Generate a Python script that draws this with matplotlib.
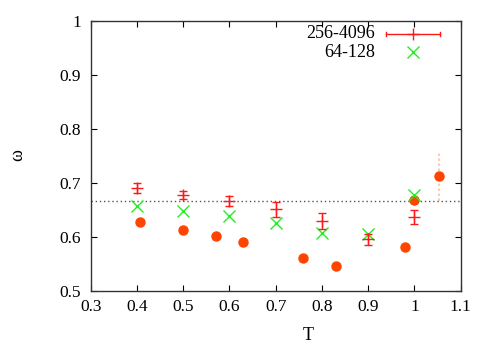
import matplotlib
matplotlib.use("Agg")
import matplotlib.pyplot as plt

plt.rcParams['font.family'] = ['Liberation Serif', 'DejaVu Serif']

# 256-4096 series (red, with error bars)
T_big = [0.4, 0.5, 0.6, 0.7, 0.8, 0.9, 1.0]
w_big = [0.690, 0.678, 0.667, 0.651, 0.629, 0.596, 0.637]
e_big = [0.009, 0.007, 0.009, 0.014, 0.015, 0.010, 0.013]

# 64-128 series (green crosses)
T_small = [0.4, 0.5, 0.6, 0.7, 0.8, 0.9, 1.0]
w_small = [0.657, 0.648, 0.638, 0.625, 0.608, 0.605, 0.677]

# unlabeled series (orange filled circles)
T_dot = [0.406, 0.50, 0.57, 0.63, 0.76, 0.83, 0.98, 1.0, 1.053]
w_dot = [0.627, 0.612, 0.601, 0.590, 0.561, 0.547, 0.582, 0.668, 0.713]
e_dot = [0.0, 0.0, 0.0, 0.0, 0.0, 0.0, 0.005, 0.0, 0.046]

ref_line = 2.0 / 3.0

xticks = [0.3, 0.4, 0.5, 0.6, 0.7, 0.8, 0.9, 1.0, 1.1]
xticklabels = ['0.3', '0.4', '0.5', '0.6', '0.7', '0.8', '0.9', '1', '1.1']
yticks = [0.5, 0.6, 0.7, 0.8, 0.9, 1.0]
yticklabels = ['0.5', '0.6', '0.7', '0.8', '0.9', '1']

fig = plt.figure(figsize=(4.91, 3.44), dpi=100)
ax = fig.add_axes([90.7/491, 1-291/344, 370/491, 270.3/344])

ax.axhline(ref_line, color='#555555', linestyle=(0, (1, 2)), linewidth=1.0, zorder=1)

# orange circles with light dotted error bars
eb = ax.errorbar(T_dot, w_dot, yerr=e_dot, fmt='o', color='#ff4400', markersize=6.5,
                 ecolor='#ffc0a0', elinewidth=1.2, capsize=0, zorder=2)
for lc in eb[2]:
    lc.set_linestyle((0, (1.5, 1.5)))

# green crosses
ax.plot(T_small, w_small, linestyle='none', marker='x', color='#22ee22', markersize=8,
        markeredgewidth=1.0, zorder=3)

# red plus with error bars
ax.errorbar(T_big, w_big, yerr=e_big, fmt='+', color='#ff1a1a', markersize=9,
            markeredgewidth=1.0, elinewidth=1.0, capsize=3, capthick=1.0, zorder=4)

ax.set_xlim(0.3, 1.1)
ax.set_ylim(0.5, 1.0)
ax.set_xticks(xticks)
ax.set_xticklabels(xticklabels)
ax.set_yticks(yticks)
ax.set_yticklabels(yticklabels)
ax.tick_params(direction='in', top=True, right=True, labelsize=12.5, length=4, width=0.8)
ax.tick_params(axis='y', pad=7)
ax.tick_params(axis='x', pad=6)
for s in ax.spines.values():
    s.set_linewidth(1.0)
    s.set_color('#333333')

ax.set_xlabel('T', fontsize=13, va='center')
ax.xaxis.set_label_coords((308 - 90.7) / 370, -(335 - 291) / 270.3)
ax.set_ylabel('ω', fontsize=13, rotation=90, va='center')
ax.yaxis.set_label_coords(-(90.7 - 18) / 370, 1 - (155 - 20.7) / 270.3)

# legend (manual, gnuplot-style)
tr = ax.transAxes
ax.text(0.768, 0.951, '256-4096', transform=tr, ha='right', va='center', fontsize=13)
ax.text(0.768, 0.884, '64-128', transform=tr, ha='right', va='center', fontsize=13)
ax.plot([0.798, 0.944], [0.951, 0.951], transform=tr, color='#ff1a1a', lw=1.0, clip_on=False)
ax.plot([0.798, 0.798], [0.942, 0.960], transform=tr, color='#ff1a1a', lw=1.0, clip_on=False)
ax.plot([0.944, 0.944], [0.942, 0.960], transform=tr, color='#ff1a1a', lw=1.0, clip_on=False)
ax.plot([0.871], [0.951], transform=tr, marker='+', color='#ff1a1a', markersize=9, mew=1.0,
        linestyle='none', clip_on=False)
ax.plot([0.871], [0.884], transform=tr, marker='x', color='#22ee22', markersize=8, mew=1.0,
        linestyle='none', clip_on=False)

fig.savefig('out.png', dpi=100)
